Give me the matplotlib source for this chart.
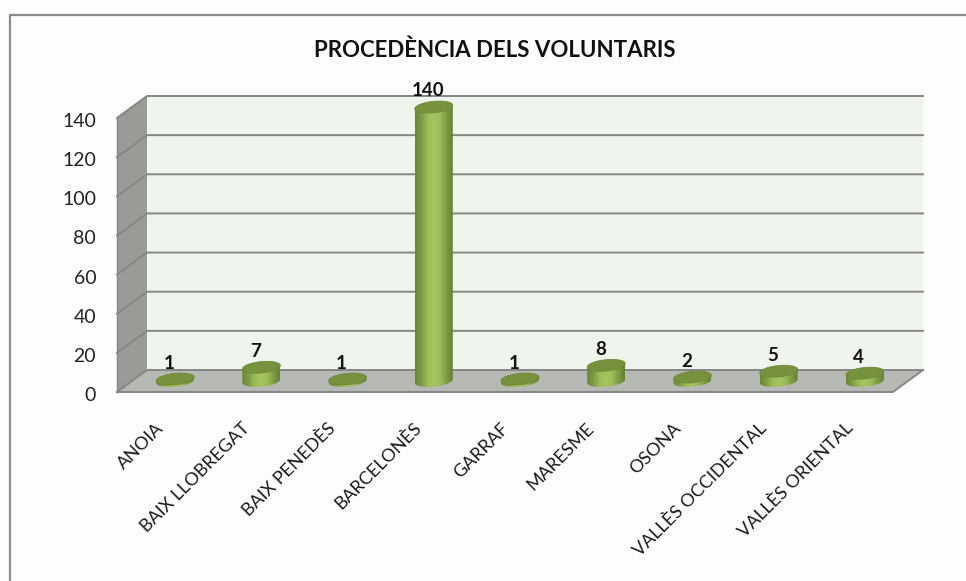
import numpy as np
import matplotlib
matplotlib.use("Agg")
import matplotlib.pyplot as plt
from matplotlib.patches import Polygon
from matplotlib.lines import Line2D
from matplotlib.transforms import ScaledTranslation
from matplotlib.colors import LinearSegmentedColormap

# data
categories = ["ANOIA", "BAIX LLOBREGAT", "BAIX PENEDÈS", "BARCELONÈS", "GARRAF",
              "MARESME", "OSONA", "VALLÈS OCCIDENTAL", "VALLÈS ORIENTAL"]
values = [1, 7, 1, 140, 1, 8, 2, 5, 4]
y_ticks = [0, 20, 40, 60, 80, 100, 120, 140]
title = "PROCEDÈNCIA DELS VOLUNTARIS"

W, H = 966, 581
plt.rcParams["font.family"] = ["Lato", "DejaVu Sans"]

fig = plt.figure(figsize=(W / 100, H / 100), dpi=100, facecolor="#fdfdfd")

# axes = front plane of the 3d box
left, right, top, bottom = 117, 893, 118, 392
ax = fig.add_axes([left / W, 1 - bottom / H, (right - left) / W, (bottom - top) / H])
ax.set_xlim(-0.5, 8.5)
ax.set_ylim(0, 140)
ax.patch.set_visible(False)
for s in ax.spines.values():
    s.set_visible(False)

# depth of the box in data units
dx = 30 / (right - left) * 9
dy = 22 / (bottom - top) * 140
x0, x1 = -0.5, 8.5

GRID = "#858784"

# walls
ax.add_patch(Polygon([(x0 + dx, dy), (x1 + dx, dy), (x1 + dx, 140 + dy), (x0 + dx, 140 + dy)],
                     fc="#eff4ec", ec="none", clip_on=False, zorder=1))
ax.add_patch(Polygon([(x0, 0), (x0 + dx, dy), (x0 + dx, 140 + dy), (x0, 140)],
                     fc="#999b96", ec="none", clip_on=False, zorder=1))
ax.add_patch(Polygon([(x0, 0), (x1, 0), (x1 + dx, dy), (x0 + dx, dy)],
                     fc="#b6b8b3", ec="none", clip_on=False, zorder=1))

# gridlines, on back wall and side wall
for v in y_ticks:
    ax.add_line(Line2D([x0, x0 + dx, x1 + dx], [v, v + dy, v + dy], color=GRID, lw=1.4,
                       clip_on=False, zorder=2))
ax.add_line(Line2D([x0, x0], [0, 140], color=GRID, lw=1.0, clip_on=False, zorder=2))
ax.add_line(Line2D([x0, x1, x1 + dx], [0, 0, dy], color=GRID, lw=1.4, clip_on=False, zorder=2))

# cylinders
body_cmap = LinearSegmentedColormap.from_list(
    "body", ["#6a8636", "#7d9c43", "#9dbd59", "#a3c45e", "#9dbd59", "#7d9c43", "#66812f"])
a = 19 / (right - left) * 9    # half width
b = 2.9                        # ellipse half height
shear = 0.9
t = np.linspace(0, 2 * np.pi, 80)


def ellipse(cx, cy):
    return np.column_stack([cx + a * np.cos(t), cy + b * np.sin(t) + shear * np.cos(t)])


grad = np.linspace(0, 1, 64).reshape(1, -1)
for i, v in enumerate(values):
    cx = i + dx / 2
    cy = dy / 2
    # side of the cylinder: lower half of base ellipse + upper part
    lower = t[(t >= np.pi) & (t <= 2 * np.pi)]
    base = np.column_stack([cx + a * np.cos(lower), cy + b * np.sin(lower) + shear * np.cos(lower)])
    outline = np.vstack([base, [[cx + a, cy + v + shear]], [[cx - a, cy + v - shear]]])
    clip = Polygon(outline, transform=ax.transData, fc="none", ec="none", clip_on=False)
    ax.add_patch(clip)
    im = ax.imshow(grad, cmap=body_cmap, aspect="auto", zorder=3,
                   extent=[cx - a, cx + a, cy - b - shear, cy + v + b + shear])
    im.set_clip_box(fig.bbox)
    im.set_clip_path(clip)
    ax.add_patch(Polygon(ellipse(cx, cy + v), fc="#76923c", ec="#6f8a38", lw=0.6,
                         clip_on=False, zorder=4))
    # value labels
    ax.annotate(str(v), (cx, cy + v), xytext=(-6, 16), textcoords="offset pixels",
                ha="center", va="center", fontsize=13.5, fontweight="bold", color="#111111",
                annotation_clip=False, zorder=5)

ax.set_xlim(-0.5, 8.5)
ax.set_ylim(0, 140)

# ticks
ax.set_yticks(y_ticks)
ax.tick_params(axis="y", length=0, pad=15, labelsize=14, labelcolor="#222222")
yshift = ScaledTranslation(0, -2 / 100, fig.dpi_scale_trans)
for lab in ax.get_yticklabels():
    lab.set_transform(lab.get_transform() + yshift)
ax.set_xticks(range(len(categories)))
ax.set_xticklabels(categories, rotation=45, ha="right", va="top", rotation_mode="anchor",
                   fontsize=13, color="#1a1a1a")
ax.tick_params(axis="x", length=0, pad=0)
shift = ScaledTranslation(-5 / 100, -28 / 100, fig.dpi_scale_trans)
for lab in ax.get_xticklabels():
    lab.set_transform(lab.get_transform() + shift)

# title
fig.text(495 / W, 1 - 50 / H, title, ha="center", va="center", fontsize=16, fontweight="bold",
         color="#111111")

# outer frame, only top and left show
fig.add_artist(Line2D([10 / W, 10 / W, 1], [0, 1 - 15 / H, 1 - 15 / H], color="#8c8c8c", lw=1.6))

fig.savefig("out.png", dpi=100, facecolor=fig.get_facecolor())
